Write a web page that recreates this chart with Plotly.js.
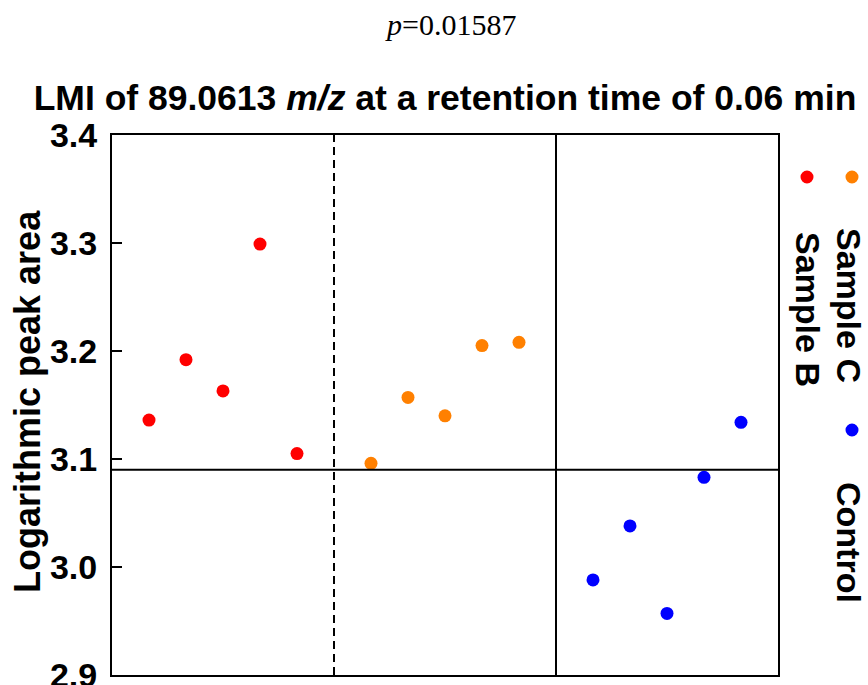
<!DOCTYPE html>
<html>
<head>
<meta charset="utf-8">
<script src="https://cdn.plot.ly/plotly-3.0.1.min.js"></script>
<style>html,body{margin:0;padding:0;background:#fff;}#chart{width:868px;height:685px;}</style>
</head>
<body>
<div id="chart"></div>
<script>
// Data
const seriesNames = ["Sample B", "Sample C", "Control"];
const seriesColors = ["#FF0000", "#FF8000", "#0000FF"];
const xSampleB = [1, 2, 3, 4, 5];
const ySampleB = [3.136, 3.192, 3.163, 3.299, 3.105];
const xSampleC = [7, 8, 9, 10, 11];
const ySampleC = [3.096, 3.157, 3.140, 3.205, 3.208];
const xControl = [13, 14, 15, 16, 17];
const yControl = [2.988, 3.038, 2.957, 3.083, 3.134];
const yTicks = [2.9, 3.0, 3.1, 3.2, 3.3, 3.4];
const yTickLabels = ["2.9", "3.0", "3.1", "3.2", "3.3", "3.4"];
const cutoffY = 3.09;
const groupDividers = [6, 12];
const pValueText = "<i>p</i>=0.01587";
const titleText = "<b>LMI of 89.0613 <i>m/z</i> at a retention time of 0.06 min</b>";
const yTitleText = "<b>Logarithmic peak area</b>";

const W = 868, H = 685;
const M = {l: 112, r: 90, t: 135, b: 10};
const pw = W - M.l - M.r, ph = H - M.t - M.b;
const px = v => (v - M.l) / pw;
const py = v => (H - M.b - v) / ph;

const FONT = "Arial, 'Liberation Sans', sans-serif";
const xs = [xSampleB, xSampleC, xControl];
const ys = [ySampleB, ySampleC, yControl];

const traces = seriesNames.map((n, i) => ({
  type: "scatter", mode: "markers", name: n,
  x: xs[i], y: ys[i],
  marker: {color: seriesColors[i], size: 13},
  hoverinfo: "x+y"
}));

// legend marker positions (pixels) and label positions
const legendDots = [[807, 177], [852, 177], [852, 430]];
const legendLabels = [[808, 309], [849, 305], [849, 542]];

const shapes = [
  {type: "line", xref: "x", yref: "paper", x0: groupDividers[0], x1: groupDividers[0], y0: 0, y1: 1,
   line: {color: "#000", width: 2, dash: "8px,5px"}},
  {type: "line", xref: "x", yref: "paper", x0: groupDividers[1], x1: groupDividers[1], y0: 0, y1: 1,
   line: {color: "#000", width: 2}},
  {type: "line", xref: "paper", yref: "y", x0: 0, x1: 1, y0: cutoffY, y1: cutoffY,
   line: {color: "#000", width: 2}}
];
legendDots.forEach((d, i) => {
  shapes.push({type: "circle", xref: "paper", yref: "paper",
    xsizemode: "pixel", ysizemode: "pixel",
    xanchor: px(d[0]), yanchor: py(d[1]),
    x0: -6.5, x1: 6.5, y0: -6.5, y1: 6.5,
    fillcolor: seriesColors[i], line: {width: 0}});
});

const annotations = [
  {text: pValueText, xref: "paper", yref: "paper", x: px(450), y: py(24),
   xanchor: "center", yanchor: "middle", showarrow: false,
   font: {family: "'Times New Roman', 'Liberation Serif', serif", size: 30, color: "#000"}},
  {text: yTitleText, xref: "paper", yref: "paper", x: px(27), y: py(402),
   xanchor: "center", yanchor: "middle", showarrow: false, textangle: -90,
   font: {family: FONT, size: 36, color: "#000"}}
];
legendLabels.forEach((p, i) => {
  annotations.push({text: "<b>" + seriesNames[i] + "</b>", xref: "paper", yref: "paper",
    x: px(p[0]), y: py(p[1]), xanchor: "center", yanchor: "middle",
    showarrow: false, textangle: 90,
    font: {family: FONT, size: 34, color: "#000"}});
});

const layout = {
  width: W, height: H,
  margin: M,
  paper_bgcolor: "#fff", plot_bgcolor: "#fff",
  showlegend: false,
  title: {text: titleText, x: 0.5, xref: "paper", xanchor: "center",
          y: 1 - 98 / H, yref: "container", yanchor: "middle",
          font: {family: FONT, size: 35.5, color: "#000"}},
  xaxis: {range: [0, 18], showgrid: false, zeroline: false, showticklabels: false,
          ticks: "", showline: true, mirror: true, linecolor: "#000", linewidth: 2, fixedrange: true},
  yaxis: {range: [2.9, 3.4], tickvals: yTicks, ticktext: yTickLabels,
          showgrid: false, zeroline: false, ticks: "inside", ticklen: 10, tickwidth: 2, tickcolor: "#000",
          ticklabelstandoff: 6, ticklabeloverflow: "allow",
          tickfont: {family: FONT, size: 34, color: "#000", weight: "bold"},
          showline: true, mirror: true, linecolor: "#000", linewidth: 2, fixedrange: true},
  shapes: shapes,
  annotations: annotations
};

Plotly.newPlot("chart", traces, layout, {displayModeBar: false, staticPlot: true});
</script>
</body>
</html>
